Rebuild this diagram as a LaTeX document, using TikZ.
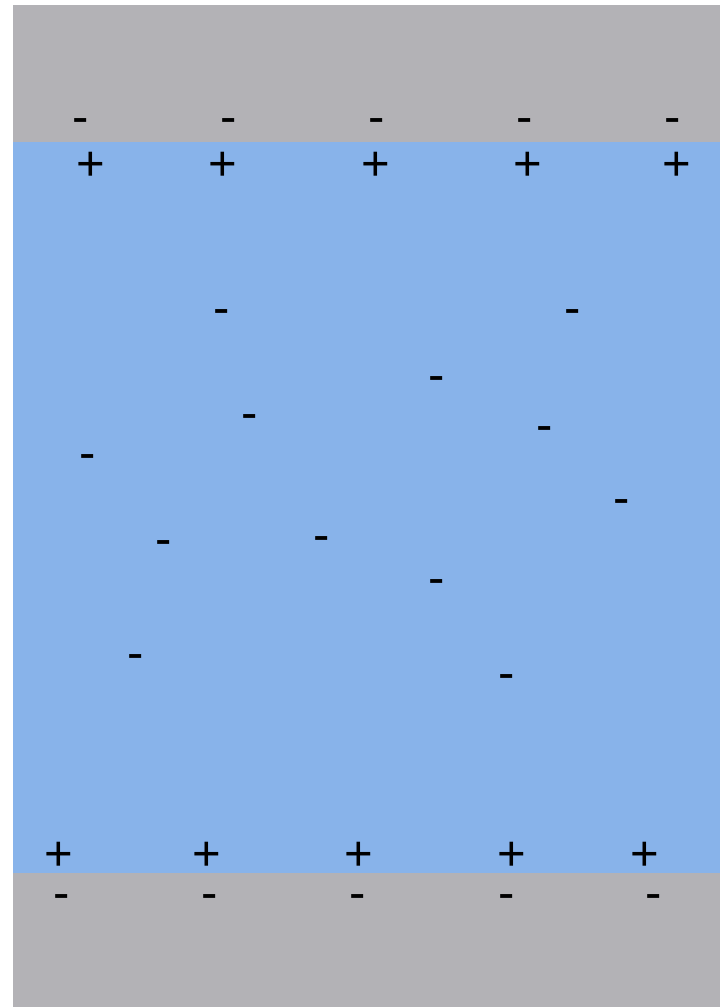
\documentclass[tikz,border=0pt]{standalone}
\usepackage{fontspec}
\setmainfont{Liberation Sans}
\usepackage{xcolor}
\usepackage{tikz}
\definecolor{platecol}{HTML}{B3B2B6}
\definecolor{dielcol}{HTML}{88B3EA}

\begin{document}
\begin{tikzpicture}[
    x=1pt, y=-1pt,
    plate/.style={fill=platecol, draw=none},
    diel/.style={fill=dielcol, draw=none},
    negch/.style={font=\fontsize{49}{49}\selectfont, inner sep=0pt, anchor=base, xshift=1pt, yshift=-14.6pt},
    posch/.style={font=\fontsize{49}{49}\selectfont, inner sep=0pt, anchor=base, xshift=1pt, yshift=-17.8pt}
]
\useasboundingbox (0,0) rectangle (720,1007);

% ---- Plates and dielectric ----
\fill[plate] (13,5) rectangle (720,142);
\fill[diel] (13,142) rectangle (720,873);
\fill[plate] (13,873) rectangle (720,1007);

% ---- Top plate charges ----
\foreach \x [count=\i] in {80,228,376,524,672}
    \node[negch] (tn\i) at (\x,119) {-};
\foreach \x [count=\i] in {90,222,375,527,676}
    \node[posch] (tp\i) at (\x,163) {+};

% ---- Free charges in dielectric ----
\foreach \x/\y [count=\i] in {221/310, 572/310, 436/377, 249/415, 544/427, 87/455,
    621/500, 163/541, 321/537, 436/580, 135/655, 506/675}
    \node[negch] (fn\i) at (\x,\y) {-};

% ---- Bottom plate charges ----
\foreach \x [count=\i] in {58,206,358,511,644}
    \node[posch] (bp\i) at (\x,853) {+};
\foreach \x [count=\i] in {61,209,357,506,653}
    \node[negch] (bn\i) at (\x,895) {-};

\end{tikzpicture}
\end{document}
